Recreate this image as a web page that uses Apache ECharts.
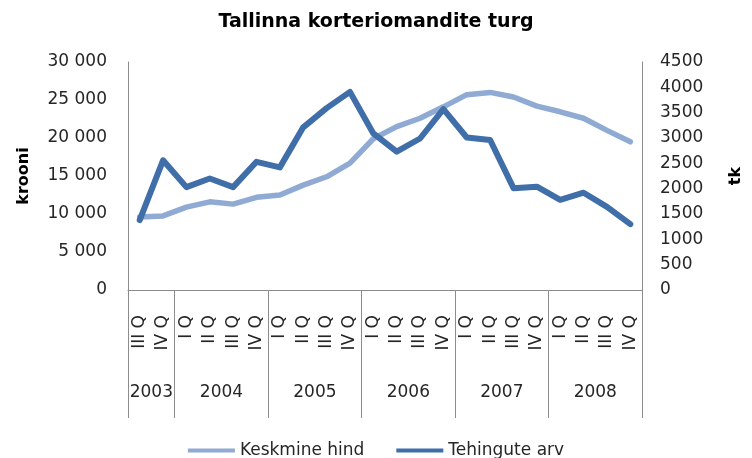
<!DOCTYPE html>
<html>
<head>
<meta charset="utf-8">
<script src="https://cdn.jsdelivr.net/npm/echarts@6/dist/echarts.min.js"></script>
<style>
html,body{margin:0;padding:0;background:#fff;}
#chart{width:752px;height:458px;}
</style>
</head>
<body>
<div id="chart"></div>
<script>
// ---- data ----
const quarters = ['III Q','IV Q',
  'I Q','II Q','III Q','IV Q',
  'I Q','II Q','III Q','IV Q',
  'I Q','II Q','III Q','IV Q',
  'I Q','II Q','III Q','IV Q',
  'I Q','II Q','III Q','IV Q'];
const years = ['2003','2004','2005','2006','2007','2008'];
const quartersPerYear = [2,4,4,4,4,4];
const avgPrice = [9600, 9750, 10900, 11600, 11300, 12200, 12500, 13800, 14900, 16700, 19900,
  21500, 22600, 24100, 25700, 26000, 25400, 24200, 23450, 22600, 21000, 19500];
const deals = [1380, 2560, 2030, 2200, 2030, 2530, 2420, 3210, 3590, 3910, 3090,
  2730, 2990, 3570, 3010, 2960, 2010, 2040, 1780, 1920, 1640, 1300];
const leftTicks = {min:0, max:30000, interval:5000};
const rightTicks = {min:0, max:4500, interval:500};

// ---- derived group positions ----
const bounds = [0];
quartersPerYear.forEach(n => bounds.push(bounds[bounds.length-1] + n));
const centers = quartersPerYear.map((n,i) => bounds[i] + n/2);

const FONT = 'DejaVu Sans';
const TXT = '#262626';
const AX = '#8c8c8c';

function spaced(v){
  const s = String(Math.round(v));
  return s.replace(/\B(?=(\d{3})+(?!\d))/g, ' ');
}

const chart = echarts.init(document.getElementById('chart'), null, {renderer:'canvas'});
chart.setOption({
  animation:false,
  backgroundColor:'#fff',
  title:{
    text:'Tallinna korteriomandite turg',
    left:'center', top:8,
    textStyle:{fontFamily:FONT, fontWeight:'bold', fontSize:19, color:'#000'}
  },
  legend:{
    top:437, left:'center',
    icon:'rect', itemWidth:47, itemHeight:4, itemGap:32,
    textStyle:{fontFamily:FONT, fontSize:17, color:TXT},
    data:['Keskmine hind','Tehingute arv']
  },
  grid:{left:128, right:104, top:62, bottom:168},
  xAxis:[
    {
      type:'category', data:quarters, position:'bottom',
      axisLine:{show:true, lineStyle:{color:AX, width:1}},
      axisTick:{show:false},
      axisLabel:{rotate:90, interval:0, margin:25, fontFamily:FONT, fontSize:17, color:TXT}
    },
    {
      type:'value', min:0, max:bounds[bounds.length-1], position:'bottom',
      axisLine:{show:false},
      splitLine:{show:false},
      axisTick:{show:true, inside:false, length:128, customValues:bounds, lineStyle:{color:AX, width:1}},
      axisLabel:{
        customValues:centers, margin:94, fontFamily:FONT, fontSize:17, color:TXT,
        formatter:(v)=>{ const i = centers.indexOf(v); return i>=0 ? years[i] : ''; }
      }
    }
  ],
  yAxis:[
    {
      type:'value', position:'left', min:leftTicks.min, max:leftTicks.max, interval:leftTicks.interval,
      name:'krooni', nameLocation:'middle', nameRotate:90, nameGap:96,
      nameTextStyle:{fontFamily:FONT, fontWeight:'bold', fontSize:16, color:'#000'},
      axisLine:{show:true, lineStyle:{color:AX, width:1}},
      axisTick:{show:false},
      splitLine:{show:false},
      axisLabel:{margin:21, fontFamily:FONT, fontSize:17, color:TXT, formatter:spaced}
    },
    {
      type:'value', position:'right', min:rightTicks.min, max:rightTicks.max, interval:rightTicks.interval,
      name:'tk', nameLocation:'middle', nameRotate:90, nameGap:86,
      nameTextStyle:{fontFamily:FONT, fontWeight:'bold', fontSize:16, color:'#000'},
      axisLine:{show:true, lineStyle:{color:AX, width:1}},
      axisTick:{show:false},
      splitLine:{show:false},
      axisLabel:{margin:18, fontFamily:FONT, fontSize:17, color:TXT, formatter:(v)=>String(v)}
    }
  ],
  series:[
    {
      name:'Keskmine hind', type:'line', xAxisIndex:0, yAxisIndex:0,
      data:avgPrice, showSymbol:false, symbol:'none',
      lineStyle:{color:'#8FAAD3', width:5.5, cap:'round', join:'round'},
      itemStyle:{color:'#8FAAD3'}
    },
    {
      name:'Tehingute arv', type:'line', xAxisIndex:0, yAxisIndex:1,
      data:deals, showSymbol:false, symbol:'none',
      lineStyle:{color:'#3F6EA8', width:6, cap:'round', join:'round'},
      itemStyle:{color:'#3F6EA8'}
    }
  ]
});
</script>
</body>
</html>
